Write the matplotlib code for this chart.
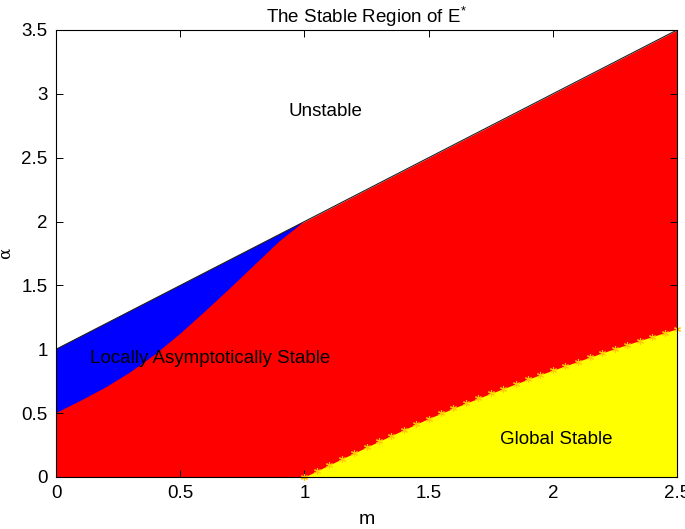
import matplotlib
matplotlib.use("Agg")
import matplotlib.pyplot as plt

plt.rcParams['font.family'] = ['Liberation Sans', 'DejaVu Sans']
plt.rcParams['mathtext.default'] = 'regular'

# Upper boundary (unstable above)
m_top = [0.0, 2.5]
alpha_top = [1.0, 3.5]

# Lower boundary of the blue region
m_blue = [0.0, 0.1, 0.2, 0.3, 0.4, 0.5, 0.6, 0.7, 0.8, 0.9, 1.0]
alpha_blue = [0.5, 0.597, 0.70, 0.82, 0.96, 1.12, 1.295, 1.475, 1.66, 1.845, 2.0]

# Global stability boundary (asterisk markers)
m_glob = [1.00, 1.05, 1.10, 1.15, 1.20, 1.25, 1.30, 1.35, 1.40, 1.45, 1.50,
          1.55, 1.60, 1.65, 1.70, 1.75, 1.80, 1.85, 1.90, 1.95, 2.00,
          2.05, 2.10, 2.15, 2.20, 2.25, 2.30, 2.35, 2.40, 2.45, 2.50]
alpha_glob = [0.000, 0.047, 0.094, 0.141, 0.187, 0.233, 0.279, 0.324, 0.369, 0.414, 0.458,
              0.498, 0.538, 0.577, 0.616, 0.654, 0.691, 0.728, 0.765, 0.801, 0.836,
              0.870, 0.904, 0.938, 0.972, 1.005, 1.037, 1.068, 1.099, 1.130, 1.160]

xticks = [0, 0.5, 1, 1.5, 2, 2.5]
xticklabels = ['0', '0.5', '1', '1.5', '2', '2.5']
yticks = [0, 0.5, 1, 1.5, 2, 2.5, 3, 3.5]
yticklabels = ['0', '0.5', '1', '1.5', '2', '2.5', '3', '3.5']

fig = plt.figure(figsize=(6.85, 5.29), dpi=100)
ax = fig.add_axes([0.0818, 0.0983, 0.9065, 0.845])

# red region under the top line
ax.fill_between(m_top, 0, alpha_top, color='#ff0000', linewidth=0, zorder=1)
# blue region
bx = list(m_blue) + [m_top[0]]
by = list(alpha_blue) + [alpha_top[0]]
ax.fill(bx, by, color='#0000ff', linewidth=0, zorder=2)
# yellow region
ax.fill_between(m_glob, 0, alpha_glob, color='#ffff00', linewidth=0, zorder=2)
# top boundary line
ax.plot(m_top, alpha_top, color='#202020', linewidth=0.8, zorder=3)
# asterisks
ax.plot(m_glob, alpha_glob, linestyle='none', marker=(6, 2, 0), markersize=5,
        markeredgewidth=0.8, color='#ffc800', zorder=4, clip_on=False)

ax.text(1.083, 2.86, 'Unstable', fontsize=13.5, ha='center', va='center', zorder=5)
ax.text(0.622, 0.93, 'Locally Asymptotically Stable', fontsize=13.5, ha='center', va='center', zorder=5)
ax.text(2.013, 0.29, 'Global Stable', fontsize=13.5, ha='center', va='center', zorder=5)

ax.set_xlim(0, 2.5)
ax.set_ylim(0, 3.5)
ax.set_xticks(xticks)
ax.set_xticklabels(xticklabels)
ax.set_yticks(yticks)
ax.set_yticklabels(yticklabels)
ax.tick_params(direction='in', length=5, width=0.7, top=True, right=True,
               labelsize=13.5, pad=6)
for s in ax.spines.values():
    s.set_linewidth(0.8)
    s.set_zorder(6)

ax.set_title('The Stable Region of E$^{*}$', fontsize=13.5, pad=5)
ax.set_xlabel('m', fontsize=14, labelpad=6)
ax.set_ylabel(r'$\alpha$', fontsize=12, family='DejaVu Serif')
ax.yaxis.set_label_coords(-0.066, 0.5)

fig.savefig('out.png', dpi=100)
